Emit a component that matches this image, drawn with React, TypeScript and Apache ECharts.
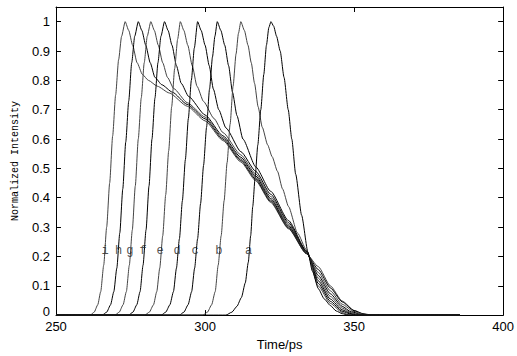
import React, { useEffect, useRef } from 'react';
import * as echarts from 'echarts';

// Curves: [time (ps), normalized intensity]
const curveI = [[250,0],[261.5,0],[262.8,0.01],[264,0.035],[265,0.08],[266,0.17],[267,0.3],[268,0.45],[269,0.61],[270,0.75],[271,0.87],[272,0.95],[273.2,1],[274.4,0.97],[275.7,0.92],[277.2,0.86],[279,0.82],[281,0.8],[284,0.78],[288,0.757],[294,0.712],[300,0.662],[306,0.595],[312,0.522],[317,0.458],[322,0.384],[328,0.294],[334,0.209],[338,0.165],[342,0.1],[346,0.048],[350,0.016],[353,0.005],[356,0],[385.5,0]];
const curveH = [[250,0],[265.5,0],[267,0.01],[268.3,0.035],[269.4,0.08],[270.4,0.16],[271.4,0.28],[272.4,0.43],[273.4,0.59],[274.4,0.73],[275.4,0.86],[276.4,0.95],[277.6,1],[278.8,0.97],[280.1,0.92],[281.6,0.86],[283.2,0.81],[285.5,0.785],[289,0.76],[294,0.718],[300,0.669],[306,0.6],[312,0.527],[317,0.463],[322,0.388],[328,0.297],[334,0.21],[338,0.155],[342,0.093],[346,0.045],[350,0.015],[353,0.004],[355,0],[385.5,0]];
const curveG = [[250,0],[269.8,0],[271.2,0.01],[272.5,0.035],[273.6,0.08],[274.6,0.17],[275.6,0.29],[276.6,0.44],[277.6,0.6],[278.6,0.74],[279.6,0.86],[280.6,0.95],[281.8,1],[283,0.97],[284.3,0.92],[285.8,0.86],[287.4,0.81],[289.5,0.772],[294,0.724],[300,0.675],[306,0.605],[312,0.532],[317,0.468],[322,0.392],[328,0.3],[334,0.211],[338,0.145],[342,0.083],[346,0.037],[350,0.011],[354,0],[385.5,0]];
const curveF = [[250,0],[274.4,0],[275.8,0.01],[277.1,0.035],[278.2,0.08],[279.2,0.17],[280.2,0.29],[281.2,0.44],[282.2,0.6],[283.2,0.74],[284.2,0.86],[285.2,0.95],[286.4,1],[287.6,0.97],[288.9,0.92],[290.4,0.85],[292,0.79],[294.5,0.745],[300,0.682],[306,0.611],[312,0.538],[317,0.474],[322,0.397],[328,0.304],[334,0.213],[338,0.135],[342,0.073],[346,0.03],[349,0.011],[353,0],[385.5,0]];
const curveE = [[250,0],[279.8,0],[281.3,0.01],[282.7,0.035],[283.8,0.08],[284.8,0.16],[285.8,0.27],[286.8,0.41],[287.8,0.56],[288.8,0.71],[289.8,0.84],[290.8,0.94],[291.7,1],[292.9,0.97],[294.2,0.92],[295.7,0.85],[297.3,0.78],[299.5,0.728],[303,0.67],[306,0.622],[312,0.546],[317,0.481],[322,0.404],[328,0.309],[334,0.215],[338,0.126],[342,0.064],[346,0.024],[349,0.008],[352,0],[385.5,0]];
const curveD = [[250,0],[285.3,0],[286.8,0.01],[288.2,0.035],[289.4,0.08],[290.4,0.16],[291.4,0.26],[292.4,0.39],[293.4,0.53],[294.4,0.67],[295.4,0.8],[296.4,0.91],[297.5,1],[298.7,0.97],[300,0.92],[301.4,0.85],[302.8,0.77],[304.6,0.7],[307,0.638],[312,0.557],[317,0.49],[322,0.412],[328,0.315],[334,0.217],[338,0.117],[342,0.055],[346,0.018],[349,0.005],[351,0],[385.5,0]];
const curveC = [[250,0],[291.4,0],[292.9,0.01],[294.3,0.035],[295.5,0.08],[296.5,0.16],[297.5,0.26],[298.5,0.38],[299.5,0.51],[300.5,0.64],[301.5,0.77],[302.5,0.88],[303.3,0.95],[304.1,1],[305.3,0.97],[306.6,0.92],[307.9,0.85],[309.2,0.76],[310.7,0.68],[312.7,0.6],[317,0.505],[322,0.422],[328,0.322],[334,0.219],[338,0.108],[342,0.047],[346,0.013],[349,0.003],[350.5,0],[385.5,0]];
const curveB = [[250,0],[299.3,0],[300.8,0.01],[302.2,0.035],[303.4,0.08],[304.4,0.17],[305.4,0.27],[306.4,0.39],[307.4,0.52],[308.4,0.65],[309.4,0.78],[310.4,0.89],[311.2,0.96],[312,1],[313.2,0.97],[314.4,0.92],[315.5,0.86],[316.6,0.79],[317.8,0.71],[319.2,0.64],[321,0.58],[322.5,0.54],[324.3,0.49],[326,0.43],[328,0.37],[331,0.28],[334,0.222],[338,0.099],[342,0.04],[346,0.009],[348,0.002],[349.5,0],[385.5,0]];
const curveA = [[250,0],[307,0],[309,0.01],[310.7,0.03],[312.2,0.06],[313.5,0.11],[314.5,0.18],[315.3,0.27],[316,0.37],[316.8,0.47],[317.7,0.58],[318.7,0.7],[319.7,0.82],[320.6,0.92],[321.4,0.98],[322.1,1],[323,0.985],[324,0.95],[325.2,0.9],[326.5,0.81],[327.9,0.7],[329.1,0.6],[330.4,0.48],[332.4,0.34],[334.5,0.215],[336,0.15],[338,0.09],[340,0.055],[342,0.033],[344,0.014],[346,0.005],[348,0],[385.5,0]];

const curveNames = ['i', 'h', 'g', 'f', 'e', 'd', 'c', 'b', 'a'];
const labelX = [266.5, 271.0, 274.8, 279.2, 284.9, 290.6, 296.7, 304.6, 314.6];
const labelY = [0.22, 0.22, 0.22, 0.22, 0.22, 0.22, 0.22, 0.22, 0.22];

export default function App() {
  const ref = useRef<HTMLDivElement>(null);
  useEffect(() => {
    const chart = echarts.init(ref.current as HTMLDivElement, null, { renderer: 'svg' });
    const curves = [curveI, curveH, curveG, curveF, curveE, curveD, curveC, curveB, curveA];
    const colors = ['#444', '#000', '#444', '#000', '#444', '#000', '#000', '#444', '#000'];
    const axisCommon = {
      axisLine: { show: true, onZero: false, lineStyle: { color: '#000', width: 1 } },
      axisTick: { show: true, inside: true, length: 5, lineStyle: { color: '#000' } },
      splitLine: { show: false },
    };
    const lineSeries = curves.map((c, i) => ({
      type: 'line',
      name: curveNames[i],
      data: c,
      xAxisIndex: 0,
      yAxisIndex: 0,
      symbol: 'none',
      showSymbol: false,
      smooth: 0.2,
      smoothMonotone: 'x',
      lineStyle: { width: 1, color: colors[i] },
      z: 2,
    }));
    chart.setOption({
      animation: false,
      backgroundColor: '#fff',
      grid: { left: 56, right: 9, top: 7, bottom: 36, containLabel: false },
      xAxis: [
        {
          type: 'value', min: 250, max: 400, interval: 50, position: 'bottom',
          ...axisCommon,
          axisLabel: { show: true, fontSize: 13, color: '#000', margin: 5, fontFamily: 'Liberation Sans' },
          name: 'Time/ps', nameLocation: 'middle', nameGap: 21,
          nameTextStyle: { fontSize: 13, color: '#000', fontFamily: 'Liberation Sans' },
        },
        {
          type: 'value', min: 250, max: 400, interval: 50, position: 'top',
          ...axisCommon,
          axisLabel: { show: false },
        },
      ],
      yAxis: [
        {
          type: 'value', min: 0, max: 1.05, interval: 0.1, position: 'left',
          ...axisCommon,
          axisLabel: {
            show: true, fontSize: 13, color: '#000', margin: 6, fontFamily: 'Liberation Sans',
            formatter: (v: number) => {
              if (v > 1.0001) return '';
              if (v < 0.0001) return '{z|0}';
              return String(Math.round(v * 10) / 10);
            },
            rich: { z: { fontSize: 13, lineHeight: 13, color: '#000', fontFamily: 'Liberation Sans', padding: [0, 0, 7, 0] } },
          },
          name: 'Normalized Intensity', nameLocation: 'middle', nameGap: 36,
          nameTextStyle: { fontSize: 10, color: '#000', fontFamily: 'Liberation Mono' },
        },
        {
          type: 'value', min: 0, max: 1.05, interval: 0.1, position: 'right',
          ...axisCommon,
          axisLabel: { show: false },
        },
      ],
      series: [
        ...lineSeries,
        {
          type: 'scatter',
          xAxisIndex: 0,
          yAxisIndex: 0,
          symbolSize: 0,
          silent: true,
          itemStyle: { color: 'transparent' },
          data: curveNames.map((n, i) => ({ name: n, value: [labelX[i], labelY[i]] })),
          label: {
            show: true, position: [0, 0], align: 'center', verticalAlign: 'middle', formatter: '{b}',
            fontSize: 12, color: '#222', fontFamily: 'Liberation Mono',
          },
          z: 5,
        },
      ],
    });
    return () => chart.dispose();
  }, []);
  return (
    <div
      ref={ref}
      style={{ position: 'absolute', left: 0, top: 0, width: 517, height: 356, background: '#fff' }}
    />
  );
}
